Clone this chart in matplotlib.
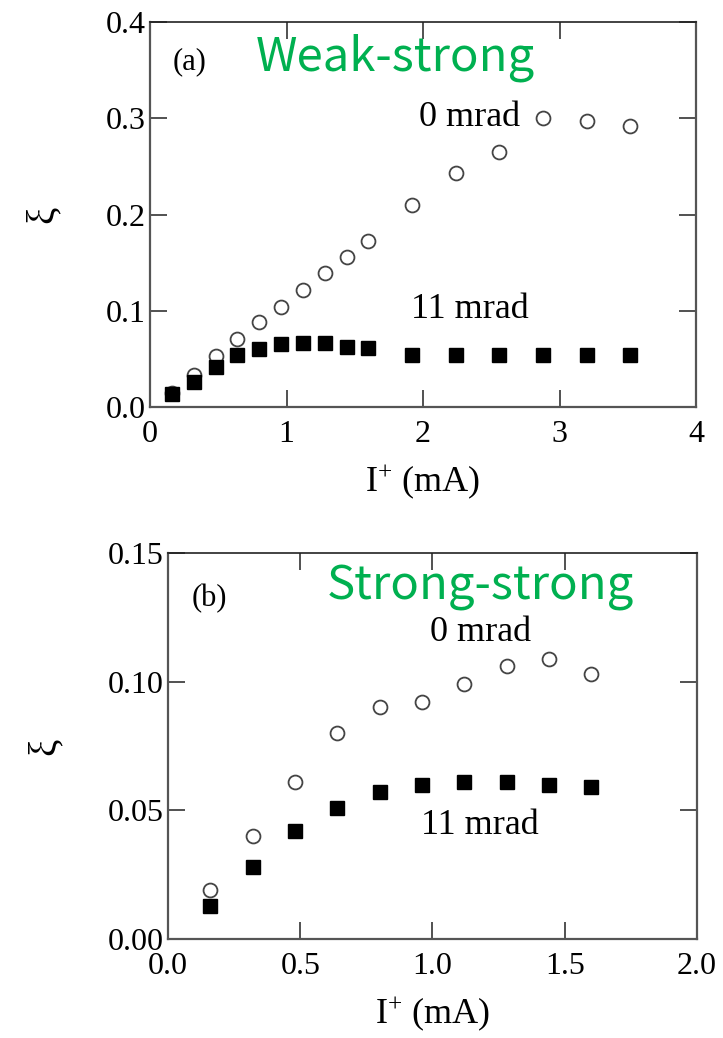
import matplotlib
matplotlib.use("Agg")
import matplotlib.pyplot as plt

# ---------------------------------------------------------------------------
# DATA
# ---------------------------------------------------------------------------
# (a) weak-strong
xa = [0.16, 0.32, 0.48, 0.64, 0.80, 0.96, 1.12, 1.28, 1.44, 1.60,
      1.92, 2.24, 2.56, 2.88, 3.20, 3.52]
xi_a_0mrad = [0.015, 0.033, 0.053, 0.071, 0.088, 0.104, 0.122, 0.139, 0.156, 0.172,
              0.210, 0.243, 0.265, 0.300, 0.297, 0.292]
xi_a_11mrad = [0.013, 0.026, 0.042, 0.054, 0.060, 0.065, 0.067, 0.066, 0.062, 0.061,
               0.054, 0.054, 0.054, 0.054, 0.054, 0.054]

# (b) strong-strong
xb = [0.16, 0.32, 0.48, 0.64, 0.80, 0.96, 1.12, 1.28, 1.44, 1.60]
xi_b_0mrad = [0.019, 0.040, 0.061, 0.080, 0.090, 0.092, 0.099, 0.106, 0.109, 0.103]
xi_b_11mrad = [0.013, 0.028, 0.042, 0.051, 0.057, 0.060, 0.061, 0.061, 0.060, 0.059]

xticks_a = [0, 1, 2, 3, 4]
yticks_a = [0.0, 0.1, 0.2, 0.3, 0.4]
xticks_b = [0.0, 0.5, 1.0, 1.5, 2.0]
yticks_b = [0.00, 0.05, 0.10, 0.15]
# ---------------------------------------------------------------------------

serif = "Liberation Serif"
green = "#00b050"
W, H = 723, 1038

plt.rcParams["mathtext.fontset"] = "custom"
plt.rcParams["mathtext.rm"] = serif
plt.rcParams["mathtext.it"] = serif + ":italic"

fig = plt.figure(figsize=(W / 100, H / 100), dpi=100)


def style(ax, xt, yt, xfmt, yfmt):
	ax.set_xticks(xt)
	ax.set_yticks(yt)
	ax.set_xticklabels([xfmt.format(v) for v in xt], family=serif, fontsize=23)
	ax.set_yticklabels([yfmt.format(v) for v in yt], family=serif, fontsize=23)
	ax.set_xlim(xt[0], xt[-1])
	ax.set_ylim(yt[0], yt[-1])
	ax.tick_params(direction="in", top=True, right=True, length=12, width=1.2,
	               color="#333333", pad=9)
	ax.tick_params(axis="y", pad=3)
	for s in ax.spines.values():
		s.set_color("#555555")
		s.set_linewidth(1.6)
	ax.spines["top"].set_color("#222222")
	ax.spines["top"].set_linewidth(1.2)
	ax.set_xlabel("I$^{\\mathrm{+}}$ (mA)", family=serif, fontsize=26, labelpad=10)
	ax.set_ylabel("ξ", family=serif, fontsize=28, labelpad=32)


# ---------------------------------------------------------------------------
# (a)
# ---------------------------------------------------------------------------
ax1 = fig.add_axes([150 / W, 1 - 407 / H, 546 / W, 385 / H])
ax1.plot(xa, xi_a_0mrad, "o", ms=10, mfc="none", mec="#444444", mew=1.3)
ax1.plot(xa, xi_a_11mrad, "s", ms=10.5, color="black")
style(ax1, xticks_a, yticks_a, "{:g}", "{:.1f}")
ax1.text(0.073, 0.896, "(a)", transform=ax1.transAxes, ha="center", va="center",
         family=serif, fontsize=22)
ax1.text(0.449, 0.906, "Weak-strong", transform=ax1.transAxes, ha="center", va="center",
         family="Noto Sans CJK JP", fontsize=34, color=green)
ax1.text(0.586, 0.753, "0 mrad", transform=ax1.transAxes, ha="center", va="center",
         family=serif, fontsize=26)
ax1.text(0.586, 0.252, "11 mrad", transform=ax1.transAxes, ha="center", va="center",
         family=serif, fontsize=26)

# ---------------------------------------------------------------------------
# (b)
# ---------------------------------------------------------------------------
ax2 = fig.add_axes([168 / W, 1 - 939 / H, 529 / W, 386 / H])
ax2.plot(xb, xi_b_0mrad, "o", ms=10, mfc="none", mec="#444444", mew=1.3)
ax2.plot(xb, xi_b_11mrad, "s", ms=10.5, color="black")
style(ax2, xticks_b, yticks_b, "{:.1f}", "{:.2f}")
ax2.text(0.079, 0.883, "(b)", transform=ax2.transAxes, ha="center", va="center",
         family=serif, fontsize=22)
ax2.text(0.590, 0.912, "Strong-strong", transform=ax2.transAxes, ha="center", va="center",
         family="Noto Sans CJK JP", fontsize=34, color=green)
ax2.text(0.590, 0.795, "0 mrad", transform=ax2.transAxes, ha="center", va="center",
         family=serif, fontsize=26)
ax2.text(0.590, 0.295, "11 mrad", transform=ax2.transAxes, ha="center", va="center",
         family=serif, fontsize=26)

fig.savefig("out.png", dpi=100)
